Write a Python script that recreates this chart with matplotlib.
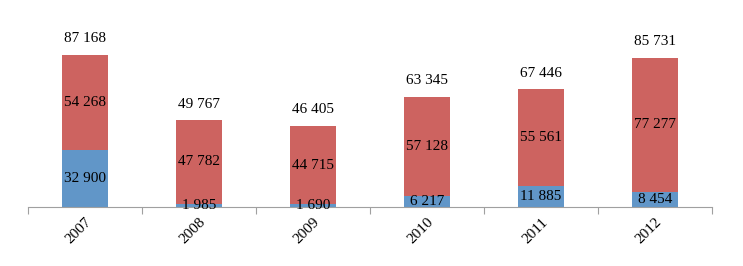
import matplotlib.pyplot as plt
import numpy as np

plt.rcParams['font.family'] = ['Liberation Serif', 'DejaVu Serif']

years = ['2007', '2008', '2009', '2010', '2011', '2012']
blue_vals = [32900, 1985, 1690, 6217, 11885, 8454]
red_vals = [54268, 47782, 44715, 57128, 55561, 77277]

C_BLUE = '#6196C8'
C_RED = '#CD6360'


def fmt(v):
    return f'{v:,}'.replace(',', ' ')


fig = plt.figure(figsize=(7.43, 2.66), dpi=100)
ax = fig.add_axes([28 / 743, 1 - 207 / 266, 684 / 743, 197 / 266])

x = np.arange(len(years))
blue = np.array(blue_vals)
red = np.array(red_vals)
total = blue + red

ax.bar(x, blue, width=0.4, color=C_BLUE)
ax.bar(x, red, width=0.4, bottom=blue, color=C_RED)

for i in range(len(years)):
    ax.text(x[i], blue[i] / 2, fmt(blue[i]), ha='center', va='center', fontsize=11)
    ax.text(x[i], blue[i] + red[i] / 2, fmt(red[i]), ha='center', va='center', fontsize=11)
    ax.annotate(fmt(total[i]), (x[i], total[i]), xytext=(0, 7), textcoords='offset points',
                ha='center', va='bottom', fontsize=11)

ax.set_xlim(-0.5, len(years) - 0.5)
ax.set_ylim(0, 113000)
for s in ['top', 'right', 'left']:
    ax.spines[s].set_visible(False)
ax.spines['bottom'].set_color('#A0A0A0')
ax.set_yticks([])
ax.set_xticks(np.arange(-0.5, len(years)), minor=False)
ax.set_xticklabels([])
ax.tick_params(axis='x', which='major', length=5, color='#A0A0A0', direction='out')
ax.set_xticks(x, minor=True)
ax.set_xticklabels(years, minor=True, rotation=45, ha='right', rotation_mode='anchor', fontsize=11)
ax.tick_params(axis='x', which='minor', length=0, pad=6)

fig.savefig('out.png', dpi=100)
